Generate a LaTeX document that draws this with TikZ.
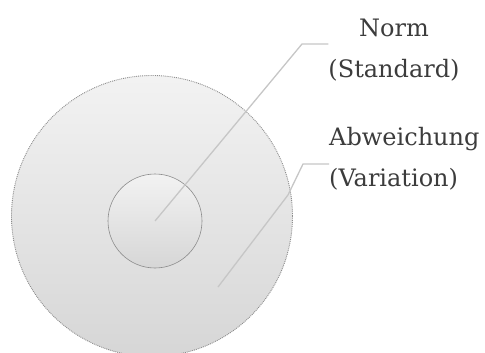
\documentclass[tikz,border=0pt]{standalone}
\usepackage{fontspec}
\setmainfont{DejaVu Serif}
\usetikzlibrary{positioning,calc}
\definecolor{ringgray}{HTML}{8C8C8C}
\definecolor{labelgray}{HTML}{3C3C3C}

\begin{document}
\begin{tikzpicture}[x=1pt,y=-1pt,
      disc/.style={circle,draw=ringgray,densely dotted,line width=0.9pt,
                   top color=gray!10,bottom color=gray!32,inner sep=0pt},
      lbl/.style={font=\fontsize{24}{41}\selectfont,text=labelgray,inner sep=0pt},
      leader/.style={draw=gray!45,line width=1.3pt}]
    \useasboundingbox (0,0) rectangle (485,353);
    \node[disc,minimum size=281pt] (outer) at (152,216) {};
    \node[disc,solid,line width=0.6pt,minimum size=94pt] (inner) at (155,221) {};
    \node[lbl,align=center] (norm) at (394,50) {Norm\\(Standard)};
    \node[lbl,align=left,anchor=west] (var) at (329,159) {Abweichung\\(Variation)};
    % leader lines
    \coordinate (nkink) at (302,44);
    \coordinate (vfoot) at (218,287);
    \coordinate (vbend) at (288,195);
    \coordinate (vkink) at (303,164);
    \draw[leader] (inner.center) -- (nkink) -- (nkink -| norm.west);
    \draw[leader] (vfoot) -- (vbend) -- (vkink) -- (vkink -| var.west);
  \end{tikzpicture}
\end{document}
